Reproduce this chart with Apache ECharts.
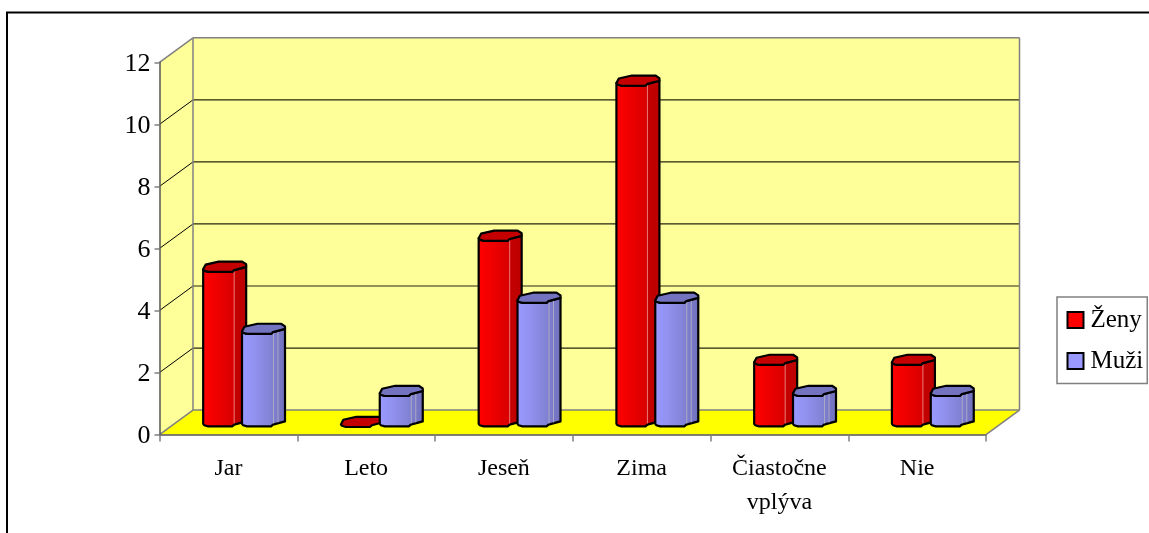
<!DOCTYPE html>
<html>
<head>
<meta charset="utf-8">
<style>html,body{margin:0;padding:0;background:#fff;}#chart{width:1149px;height:533px;}</style>
<script src="https://cdn.jsdelivr.net/npm/echarts@6/dist/echarts.min.js"></script>
</head>
<body>
<div id="chart"></div>
<script>
// Survey answers per season, split by gender
const categories = ['Jar', 'Leto', 'Jeseň', 'Zima', 'Čiastočne\nvplýva', 'Nie'];
const zeny = [5, 0, 6, 11, 2, 2];
const muzi = [3, 1, 4, 4, 1, 1];
const valueTicks = [0, 2, 4, 6, 8, 10, 12];

// Oblique projection of the chart box
const DEPTH_X = 33.5, DEPTH_Y = 24.5;
const BAR_SHIFT_Y = 8.2, BAR_W = 43;

const chart = echarts.init(document.getElementById('chart'), null, {renderer: 'canvas'});

// Side wall, back wall, floor and the gridlines that wrap around them
function renderBox(params, api) {
  const n = categories.length;
  const top = valueTicks[valueTicks.length - 1];
  const xl = api.coord([0, 0])[0] - api.size([1, 0])[0] / 2;
  const xr = xl + api.size([1, 0])[0] * n;
  const y0 = api.coord([0, 0])[1];
  const yt = api.coord([0, top])[1];
  const dx = DEPTH_X, dy = DEPTH_Y;
  const poly = (points, style) => ({type: 'polygon', shape: {points}, style});
  const line = (x1, y1, x2, y2, stroke, w) => ({type: 'line', shape: {x1, y1, x2, y2}, style: {stroke, lineWidth: w}});
  const kids = [
    poly([[xl + dx, yt - dy], [xr + dx, yt - dy], [xr + dx, y0 - dy], [xl + dx, y0 - dy]], {fill: '#ffff99'}),
    poly([[xl, yt], [xl + dx, yt - dy], [xl + dx, y0 - dy], [xl, y0]], {fill: '#ffff99'}),
    poly([[xl, y0], [xl + dx, y0 - dy], [xr + dx, y0 - dy], [xr, y0]], {fill: '#ffff00'})
  ];
  valueTicks.slice(1, -1).forEach(t => {
    const y = api.coord([0, t])[1];
    kids.push(line(xl, y, xl + dx, y - dy, '#000', 1));
    kids.push(line(xl + dx, y - dy, xr + dx, y - dy, '#262610', 1.2));
  });
  const edge = '#808080';
  kids.push(line(xl, yt, xl + dx, yt - dy, edge, 1.5));
  kids.push(line(xl + dx, yt - dy, xr + dx, yt - dy, edge, 1.5));
  kids.push(line(xl + dx, yt - dy, xl + dx, y0 - dy, edge, 1.5));
  kids.push(line(xr + dx, yt - dy, xr + dx, y0 - dy, edge, 1.5));
  kids.push(line(xl + dx, y0 - dy, xr + dx, y0 - dy, edge, 1.5));
  kids.push(line(xl, y0, xl + dx, y0 - dy, edge, 1.5));
  kids.push(line(xr, y0, xr + dx, y0 - dy, edge, 1.5));
  return {type: 'group', children: kids};
}

// Eight-sided column: body with facet shading, then its darker cap
function columnRenderer(offset, shades) {
  return function (params, api) {
    const cat = api.value(0), val = api.value(1);
    const band = api.size([1, 0])[0];
    const x = api.coord([cat, 0])[0] + band * offset;
    const base = api.coord([cat, 0])[1] - BAR_SHIFT_Y;
    const top = api.coord([cat, val])[1] - BAR_SHIFT_Y + 0.6;
    const w = BAR_W;
    const outline = {stroke: '#000', lineWidth: 2.2, lineJoin: 'round'};
    const cap = [[x, top - 2.6], [x + 2.4, top - 7.2], [x + 15.5, top - 10.2], [x + w - 4, top - 10.2],
      [x + w, top - 7.6], [x + w, top - 5], [x + w - 12, top - 1.8], [x + w - 14, top],
      [x + 5, top], [x + 1, top - 1.2]];
    const children = [];
    if (val > 0) {
      const body = [[x, top - 2.6], [x + 1, top - 1.2], [x + 5, top], [x + w - 14, top], [x + w - 12, top - 1.8],
        [x + w, top - 5], [x + w, base - 5], [x + w - 12, base - 1.8], [x + w - 14, base], [x + 5, base],
        [x + 1, base - 1.2], [x, base - 2.6]];
      children.push({
        type: 'polygon',
        shape: {points: body},
        style: Object.assign({
          fill: new echarts.graphic.LinearGradient(x, 0, x + w, 0, shades.stops, true)
        }, outline)
      });
      shades.ridges.forEach(r => {
        children.push({
          type: 'line',
          shape: {x1: x + r, y1: top - (r > 33 ? 3 : 2), x2: x + r, y2: base - (r > 33 ? 4 : 3)},
          style: {stroke: shades.edge, lineWidth: 1}
        });
      });
    }
    children.push({type: 'polygon', shape: {points: cap}, style: Object.assign({fill: shades.cap}, outline)});
    return {type: 'group', children};
  };
}

const redShades = {
  cap: '#c40000', edge: '#ec7a7a', ridges: [31],
  stops: [
    {offset: 0, color: '#ff0000'}, {offset: 0.22, color: '#f40000'}, {offset: 0.5, color: '#e40000'},
    {offset: 0.72, color: '#d80000'}, {offset: 0.73, color: '#c40000'}, {offset: 1, color: '#bc0000'}
  ]
};
const blueShades = {
  cap: '#7373c0', edge: '#a8a8c4', ridges: [31.5, 36],
  stops: [
    {offset: 0, color: '#9999ff'}, {offset: 0.3, color: '#9191ef'}, {offset: 0.55, color: '#8787de'},
    {offset: 0.73, color: '#7f7fd0'}, {offset: 1, color: '#7070bc'}
  ]
};

chart.setOption({
  animation: false,
  backgroundColor: '#fff',
  textStyle: {fontFamily: 'Liberation Serif', color: '#000'},
  graphic: [{
    type: 'rect', z: -10,
    shape: {x: 7, y: 12.5, width: 1300, height: 700},
    style: {fill: 'none', stroke: '#000', lineWidth: 2}
  }],
  legend: {
    data: [
      {name: 'Ženy', icon: 'rect'},
      {name: 'Muži', icon: 'rect'}
    ],
    orient: 'vertical',
    left: 1057, top: 297,
    itemWidth: 16, itemHeight: 16, itemGap: 16,
    padding: [10.5, 4, 10, 9.5],
    backgroundColor: '#fff',
    borderColor: '#808080', borderWidth: 1.5, borderRadius: 0,
    selectedMode: false,
    textStyle: {fontFamily: 'Liberation Serif', fontSize: 25, color: '#000', lineHeight: 24, padding: [0, 0, 0, 2]}
  },
  grid: {left: 159.5, top: 62.3, width: 826.5, height: 372.3, containLabel: false},
  xAxis: {
    type: 'category', data: categories,
    axisLine: {show: true, lineStyle: {color: '#555', width: 1.5}},
    axisTick: {show: true, length: 7, alignWithLabel: false, lineStyle: {color: '#808080', width: 1.5}},
    axisLabel: {fontFamily: 'Liberation Serif', fontSize: 24, color: '#000', margin: 17, lineHeight: 34, interval: 0},
    splitLine: {show: false}
  },
  yAxis: {
    type: 'value', min: 0, max: 12, interval: 2,
    axisLine: {show: true, lineStyle: {color: '#555', width: 1.5}},
    axisTick: {show: true, length: 5, lineStyle: {color: '#808080', width: 1.5}},
    axisLabel: {
      margin: 9,
      formatter: '{v|{value}}',
      rich: {v: {fontFamily: 'Liberation Serif', fontSize: 26, color: '#000', padding: [4, 0, 0, 0]}}
    },
    splitLine: {show: false}
  },
  series: [
    {type: 'custom', name: 'box', silent: true, z: 0, clip: false, renderItem: renderBox, data: [[0, 0]], encode: {x: 0, y: 1}},
    {type: 'custom', name: 'Ženy', z: 1, clip: false, itemStyle: {color: '#ff0000', borderColor: '#000', borderWidth: 1.5},
      renderItem: columnRenderer(-0.183, redShades), data: zeny.map((v, i) => [i, v]), encode: {x: 0, y: 1}},
    {type: 'custom', name: 'Muži', z: 2, clip: false, itemStyle: {color: '#9999ff', borderColor: '#000', borderWidth: 1.5},
      renderItem: columnRenderer(0.099, blueShades), data: muzi.map((v, i) => [i, v]), encode: {x: 0, y: 1}}
  ]
});
</script>
</body>
</html>
